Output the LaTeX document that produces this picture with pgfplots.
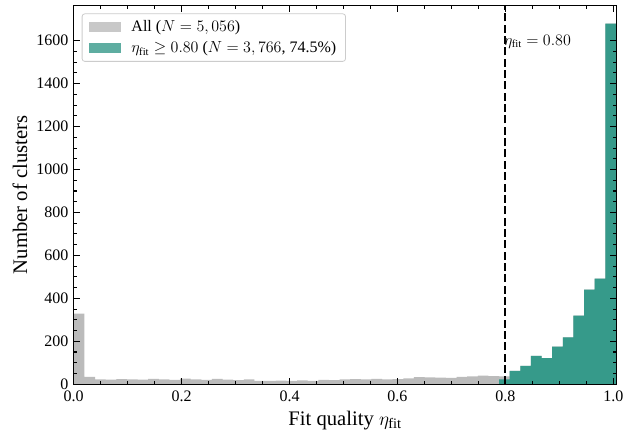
\documentclass[border=0pt]{standalone}
\usepackage{fontspec}
\setmainfont{Liberation Serif}
\usepackage{pgfplots}
\pgfplotsset{compat=1.18}
\definecolor{allgray}{RGB}{187,187,187}
\definecolor{tealc}{RGB}{54,154,138}
\definecolor{legframe}{RGB}{204,204,204}
\begin{document}
\begin{tikzpicture}
\begin{axis}[
  width=407pt, height=284pt, scale only axis,
  xmin=0, xmax=1.006, ymin=0, ymax=1764,
  axis on top,
  axis line style={line width=0.8pt},
  tick align=inside,
  xtick={0,0.2,0.4,0.6,0.8,1.0}, minor x tick num=3,
  ytick={0,200,400,600,800,1000,1200,1400,1600}, minor y tick num=3,
  major tick length=5pt, minor tick length=2.6pt,
  tick style={black, line width=0.8pt},
  xticklabel style={/pgf/number format/fixed, /pgf/number format/fixed zerofill, /pgf/number format/precision=1, yshift=-1.8pt},
  yticklabel style={/pgf/number format/1000 sep={}, xshift=-0.5pt},
  /pgf/number format/assume math mode=true,
  tick label style={font=\fontsize{12}{14}\selectfont},
  label style={font=\fontsize{15.5}{18}\selectfont},
  xlabel={Fit quality $\eta_{\mathrm{fit}}$},
  ylabel={Number of clusters},
  xlabel style={at={(axis description cs:0.5,-0.108)}, anchor=base},
  ylabel style={at={(axis description cs:-0.099,0.5)}, anchor=center},
  legend style={at={(0.0147,0.979)}, anchor=north west, draw=legframe, line width=0.6pt,
    rounded corners=2pt, font=\fontsize{12}{14}\selectfont, inner xsep=5pt, inner ysep=3pt,
    row sep=2pt, column sep=6pt, cells={anchor=west}, fill=white, fill opacity=0.8, text opacity=1},
  legend image code/.code={\fill[#1, sharp corners] (0pt,-3.8pt) rectangle (24pt,3.8pt);},
]
\addplot[const plot, fill=allgray, draw=none] coordinates {
(0,329) (0.01971,34) (0.03941,22) (0.05912,21) (0.07882,24) (0.09853,23) (0.11824,21) (0.13794,25) (0.15765,22) (0.17735,20) (0.19706,26) (0.21676,22) (0.23647,20) (0.25618,25) (0.27588,21) (0.29559,19) (0.31529,22) (0.33500,16) (0.35471,15) (0.37441,17) (0.39412,16) (0.41382,18) (0.43353,15) (0.45324,20) (0.47294,19) (0.49265,22) (0.51235,24) (0.53206,23) (0.55176,25) (0.57147,22) (0.59118,24) (0.61088,27) (0.63059,33) (0.65029,32) (0.67000,31) (0.68971,29) (0.70941,34) (0.72912,36) (0.74882,40) (0.76853,38) (0.78824,37) (0.80794,62) (0.82765,85) (0.84735,132) (0.86706,122) (0.88676,175) (0.90647,218) (0.92618,320) (0.94588,440) (0.96559,492) (0.98529,1680) (1.005,1680)
} \closedcycle;
\addlegendentry{All ($N=5,056$)}
\addplot[const plot, fill=tealc, draw=none] coordinates {
(0.78824,22) (0.80794,62) (0.82765,85) (0.84735,132) (0.86706,122) (0.88676,175) (0.90647,218) (0.92618,320) (0.94588,440) (0.96559,492) (0.98529,1680) (1.005,1680)
} \closedcycle;
\addlegendentry{$\eta_{\mathrm{fit}}\geq 0.80$ ($N=3,766$, 74.5\%)}
\addplot[forget plot, black, line width=1.5pt, dash pattern=on 6pt off 2.5pt] coordinates {(0.8,0) (0.8,1764)};
\node[anchor=west, inner sep=0pt, font=\fontsize{12}{14}\selectfont] at (axis cs:0.797,1594) {$\eta_{\mathrm{fit}} = 0.80$};
\end{axis}
\pgfresetboundingbox
\path ([shift={(-55.3pt,-36pt)}]current axis.south west) rectangle ([shift={(5.6pt,4.1pt)}]current axis.north east);
\end{tikzpicture}
\end{document}
